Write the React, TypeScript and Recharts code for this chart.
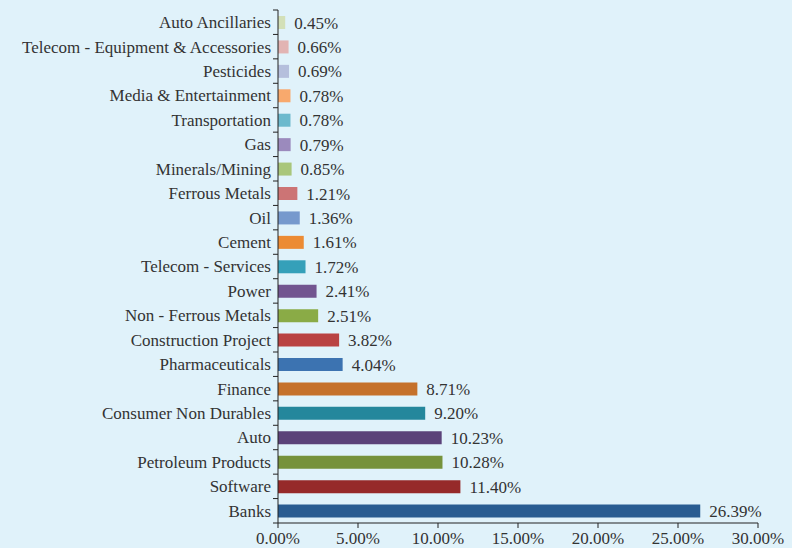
import { Bar, BarChart, Cell, LabelList, XAxis, YAxis } from 'recharts';

const sectors = [
  'Auto Ancillaries',
  'Telecom - Equipment & Accessories',
  'Pesticides',
  'Media & Entertainment',
  'Transportation',
  'Gas',
  'Minerals/Mining',
  'Ferrous Metals',
  'Oil',
  'Cement',
  'Telecom - Services',
  'Power',
  'Non - Ferrous Metals',
  'Construction Project',
  'Pharmaceuticals',
  'Finance',
  'Consumer Non Durables',
  'Auto',
  'Petroleum Products',
  'Software',
  'Banks',
];

const weights = [
  0.45, 0.66, 0.69, 0.78, 0.78, 0.79, 0.85, 1.21, 1.36, 1.61, 1.72, 2.41, 2.51,
  3.82, 4.04, 8.71, 9.2, 10.23, 10.28, 11.4, 26.39,
];

const xTicks = [0, 5, 10, 15, 20, 25, 30];

const palette = [
  '#d3e0b8', '#e2b4b3', '#b5bfdc', '#f8a96d', '#6cb9cd', '#9b8abd', '#a9c67b',
  '#cc7475', '#7699cd', '#ec8b34', '#35a0b9', '#725590', '#8aab46', '#b94242',
  '#3c73b1', '#c5712b', '#24879c', '#5b4279', '#76923b', '#962a2a', '#295c91',
];

const data = sectors.map((name, i) => ({ name, value: weights[i] }));

const W = 792;
const H = 548;
const TOP = 10;
const X_AXIS_H = 25;
const AXIS_X = 278;
const BAND = (H - TOP - X_AXIS_H) / sectors.length;
const FONT = '"Liberation Serif", "Times New Roman", serif';
const TEXT = '#333333';

function SectorTick(props: any) {
  const { y, payload, index } = props;
  const top = y - BAND / 2;
  return (
    <g>
      <line x1={AXIS_X - 5} x2={AXIS_X} y1={top} y2={top} stroke="#222" />
      {index === sectors.length - 1 && (
        <line x1={AXIS_X - 5} x2={AXIS_X} y1={top + BAND} y2={top + BAND} stroke="#222" />
      )}
      <text
        x={AXIS_X - 7}
        y={y}
        dy="0.35em"
        textAnchor="end"
        fill={TEXT}
        fontSize={17}
        fontFamily={FONT}
      >
        {payload.value}
      </text>
    </g>
  );
}

export default function App() {
  return (
    <div
      style={{
        position: 'fixed',
        left: 0,
        top: 0,
        width: W,
        height: H,
        background: '#e0f2fa',
      }}
    >
      <BarChart
        width={W}
        height={H}
        data={data}
        layout="vertical"
        margin={{ top: TOP, right: 34, left: 0, bottom: 0 }}
        barSize={13}
      >
        <XAxis
          type="number"
          domain={[0, 30]}
          ticks={xTicks}
          height={X_AXIS_H}
          tickSize={5}
          tickMargin={4}
          stroke="#222"
          tick={{ fill: TEXT, fontSize: 17, fontFamily: FONT }}
          tickFormatter={(v: number) => `${v.toFixed(2)}%`}
          interval={0}
        />
        <YAxis
          type="category"
          dataKey="name"
          width={AXIS_X}
          stroke="#222"
          tickLine={false}
          tick={<SectorTick />}
          interval={0}
        />
        <Bar dataKey="value" isAnimationActive={false}>
          {data.map((d, i) => (
            <Cell key={d.name} fill={palette[i]} />
          ))}
          <LabelList
            dataKey="value"
            position="right"
            offset={9}
            fill={TEXT}
            fontSize={17}
            fontFamily={FONT}
            formatter={(v: number) => `${v.toFixed(2)}%`}
          />
        </Bar>
      </BarChart>
    </div>
  );
}
